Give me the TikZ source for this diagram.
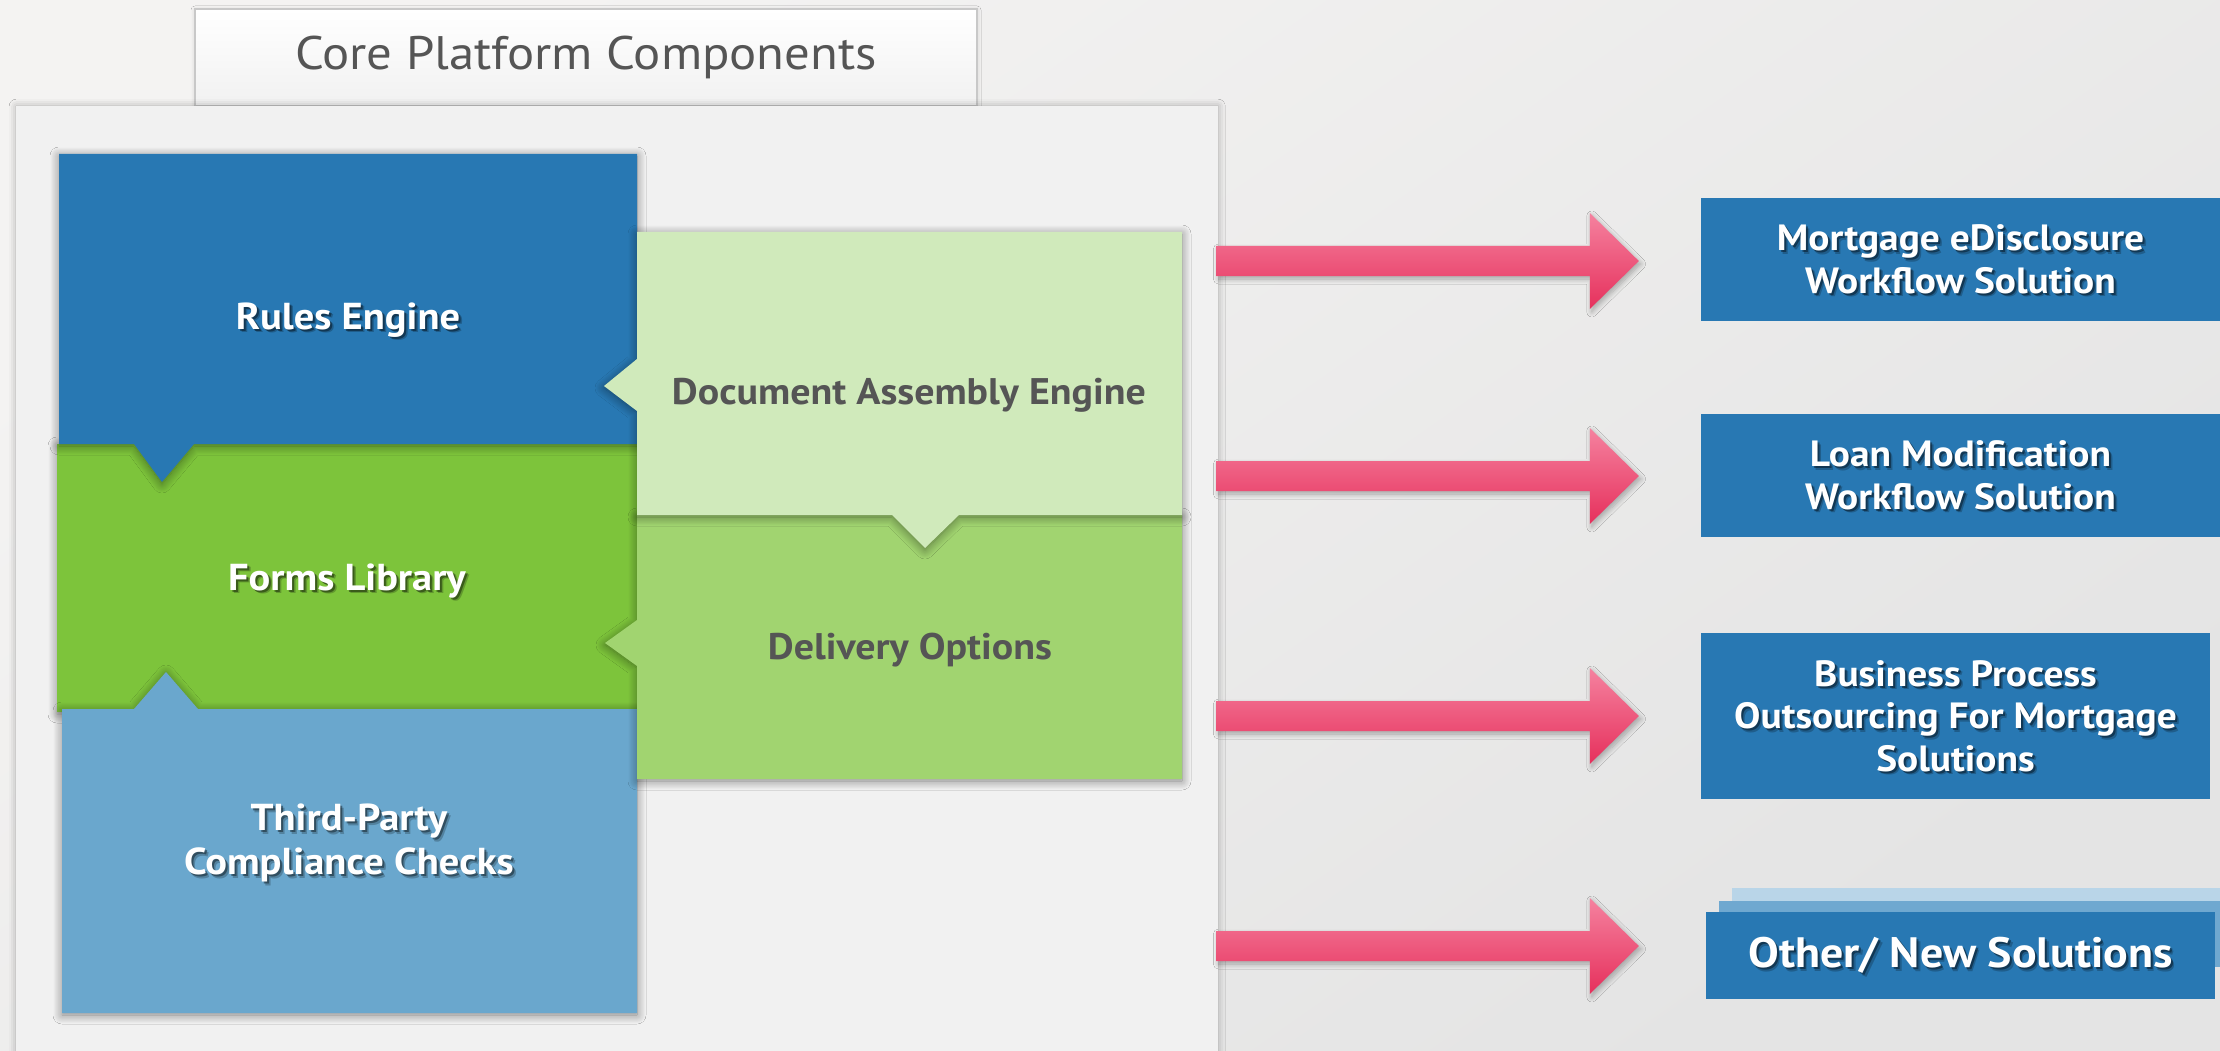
\documentclass[tikz,border=0pt]{standalone}
\usepackage{fontspec}
\setmainfont{PT Sans}[FakeStretch=1.08]
\usetikzlibrary{calc,shadows.blur}

\definecolor{bgtop}{HTML}{F4F3F2}
\definecolor{bgbot}{HTML}{E4E4E4}
\definecolor{panelc}{HTML}{F1F1F1}
\definecolor{tabedge}{HTML}{C8C8C8}
\definecolor{titlec}{HTML}{555555}
\definecolor{rulesc}{HTML}{2878B3}
\definecolor{formsc}{HTML}{7DC43B}
\definecolor{thirdc}{HTML}{6AA7CD}
\definecolor{docc}{HTML}{D0EABB}
\definecolor{delivc}{HTML}{A1D470}
\definecolor{darktext}{HTML}{555555}
\definecolor{solc}{HTML}{2878B3}
\definecolor{stackA}{HTML}{6FA8D0}
\definecolor{stackB}{HTML}{B9D5E8}
\definecolor{pinkT}{HTML}{F5829F}
\definecolor{pinkM}{HTML}{EF5A80}
\definecolor{pinkB}{HTML}{E6305C}

% block arrow from a start coordinate to a tip coordinate
\newcommand\pinkarrow[2]{%
  \path[arrowbody] let \p1=(#1), \p2=(#2) in
    (\x1,\y1+15pt) -- (\x2-49pt,\y1+15pt) -- (\x2-49pt,\y1+48pt) -- (\x2,\y1)
    -- (\x2-49pt,\y1-48pt) -- (\x2-49pt,\y1-15pt) -- (\x1,\y1-15pt) -- cycle;}

% white label with a soft dark shadow behind it
\newcommand\wlabel[4]{% name, position, font size style, text
  \node[#3, text=black, text opacity=0.22] (#1-sa) at ($#2+(3.5,3.5)$) {#4};
  \node[#3, text=black, text opacity=0.40] (#1-sb) at ($#2+(2,2)$) {#4};
  \node[#3, text=white] (#1) at #2 {#4};}

\begin{document}
\begin{tikzpicture}[x=1pt,y=-1pt,
  blockshadow/.style={blur shadow={shadow xshift=0pt,shadow yshift=-2pt,
      shadow blur radius=9pt,shadow opacity=45,shadow blur steps=12}},
  arrowbody/.style={top color=pinkT, middle color=pinkM, bottom color=pinkB,
      blur shadow={shadow xshift=2pt,shadow yshift=-3pt,shadow blur radius=5pt,
      shadow opacity=30,shadow blur steps=8}},
  lblbig/.style={font=\bfseries\fontsize{37.5}{44}\selectfont, align=center, inner sep=0pt},
  lblsol/.style={font=\bfseries\fontsize{36.5}{42.5}\selectfont, align=center, inner sep=0pt},
  lblother/.style={font=\bfseries\fontsize{42.5}{48}\selectfont, align=center, inner sep=0pt},
  darklbl/.style={font=\bfseries\fontsize{37}{44}\selectfont, text=darktext, align=center, inner sep=0pt},
  solbox/.style={fill=solc, inner sep=0pt},
]
\useasboundingbox (0,0) rectangle (2220,1051);

% backdrop
\fill[top color=bgtop, bottom color=bgbot, shading angle=35] (0,0) rectangle (2220,1051);

% title tab and the panel below it
\node[draw=tabedge, line width=1.2pt, top color=white, bottom color=panelc,
      minimum width=782, minimum height=97, inner sep=0pt,
      font=\fontsize{47}{52}\selectfont, text=titlec,
      blur shadow={shadow xshift=0pt,shadow yshift=-1pt,shadow blur radius=4pt,shadow opacity=15}]
      (title) at (586,57.5) {Core Platform Components};
\node[fill=panelc, anchor=north west, minimum width=1202, minimum height=990, inner sep=0pt,
      blur shadow={shadow xshift=0pt,shadow yshift=0pt,shadow blur radius=7pt,shadow opacity=30}]
      (panel) at (16,106) {};

% left column: forms library, then rules engine and third-party checks over it
\path[fill=formsc, blockshadow] (57,444) -- (637,444) -- (637,712) -- (57,712) -- cycle;
\path[fill=rulesc, blockshadow] (59,154) -- (637,154) -- (637,444) -- (194,444)
  -- (162,482) -- (134,444) -- (59,444) -- cycle;
\path[fill=thirdc, blockshadow] (62,709) -- (134,709) -- (166,672) -- (198,709)
  -- (637,709) -- (637,1013) -- (62,1013) -- cycle;

% right column: delivery options, then document assembly over it
\path[fill=delivc, blockshadow] (637,515) -- (1182,515) -- (1182,779) -- (637,779)
  -- (637,666) -- (605,643) -- (637,620) -- cycle;
\path[fill=docc, blockshadow] (637,232) -- (1182,232) -- (1182,515) -- (959,515)
  -- (925,548) -- (892,515) -- (637,515) -- (637,411) -- (604,386) -- (637,359) -- cycle;

% component labels
\wlabel{rules}{(348,320)}{lblbig}{Rules Engine}
\wlabel{forms}{(347,581)}{lblbig}{Forms Library}
\wlabel{third}{(349,843)}{lblbig}{Third-Party\\Compliance Checks}
\node[darklbl] (docasm) at (909,395) {Document Assembly Engine};
\node[darklbl] (deliv) at (910,650) {Delivery Options};

% solution boxes
\node[solbox, minimum width=519, minimum height=123] (b1) at (1960.5,259.5) {};
\node[solbox, minimum width=519, minimum height=123] (b2) at (1960.5,475.5) {};
\node[solbox, minimum width=509, minimum height=166] (b3) at (1955.5,716) {};
\node[fill=stackB, inner sep=0pt, anchor=north west, minimum width=500, minimum height=70] (b4back) at (1732,888) {};
\node[fill=stackA, inner sep=0pt, anchor=north west, minimum width=510, minimum height=66] (b4mid) at (1719,901) {};
\node[solbox, minimum width=509, minimum height=87] (b4) at (1960.5,955.5) {};

\wlabel{s1}{(b1.center)}{lblsol}{Mortgage eDisclosure\\Workflow Solution}
\wlabel{s2}{(b2.center)}{lblsol}{Loan Modification\\Workflow Solution}
\wlabel{s3}{(b3.center)}{lblsol}{Business Process\\Outsourcing For Mortgage\\Solutions}
\wlabel{s4}{(b4.center)}{lblother}{Other/ New Solutions}

% arrows from the platform panel to each solution
\coordinate (a1s) at ($(b1.west -| panel.east)+(-2,1.5)$);
\coordinate (a1e) at ($(b1.west)+(-62,0)$);
\coordinate (a2s) at ($(b2.west -| panel.east)+(-2,0.5)$);
\coordinate (a2e) at ($(b2.west)+(-62,0)$);
\coordinate (a3s) at ($(b3.west -| panel.east)+(-2,0)$);
\coordinate (a3e) at ($(b3.west)+(-62,0)$);
\coordinate (a4s) at ($(b4.west -| panel.east)+(-2,-9.5)$);
\coordinate (a4e) at ($(b4.west)+(-67,0)$);
\pinkarrow{a1s}{a1e}
\pinkarrow{a2s}{a2e}
\pinkarrow{a3s}{a3e}
\pinkarrow{a4s}{a4e}
\end{tikzpicture}
\end{document}
